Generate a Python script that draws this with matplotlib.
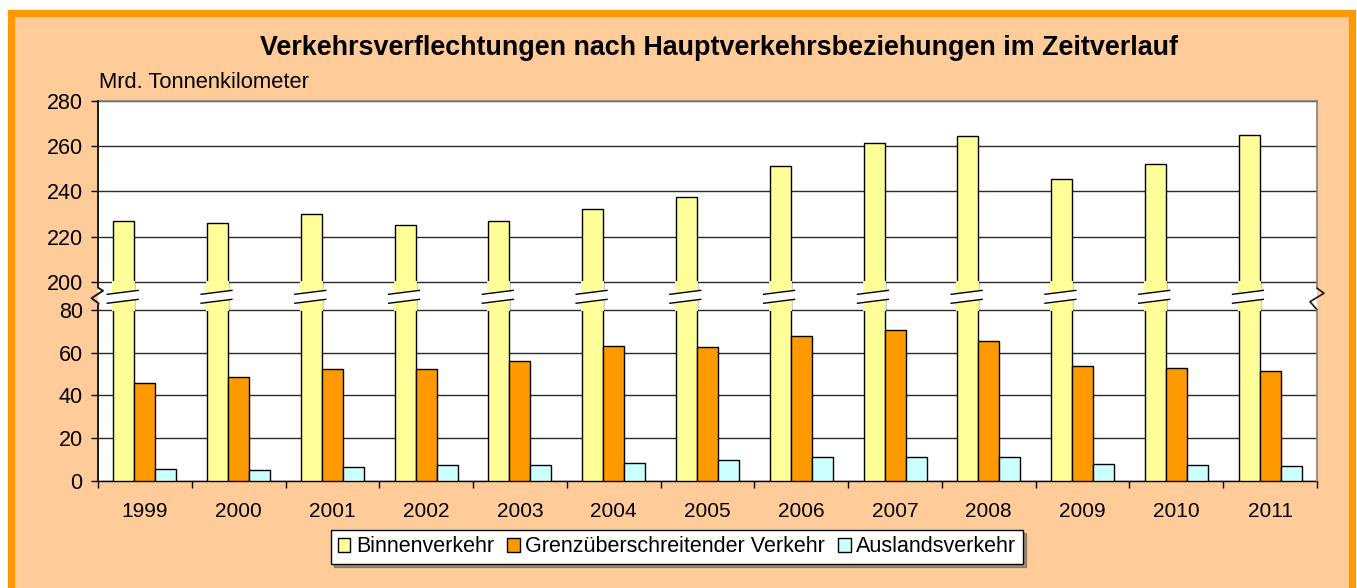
"""Verkehrsverflechtungen nach Hauptverkehrsbeziehungen - broken-axis bar chart."""

import matplotlib
matplotlib.use("Agg")
import matplotlib.pyplot as plt
import matplotlib.transforms as mtransforms
from matplotlib.patches import Rectangle, Polygon
from matplotlib.lines import Line2D
import numpy as np

# data (Mrd. Tonnenkilometer)
years = ["1999", "2000", "2001", "2002", "2003", "2004", "2005",
         "2006", "2007", "2008", "2009", "2010", "2011"]
binnen = [226.7, 226.2, 229.8, 225.3, 227.0, 232.1, 237.5,
          251.2, 261.5, 264.6, 245.6, 252.3, 265.0]
grenz = [45.8, 48.6, 52.2, 52.2, 56.1, 63.0, 62.6,
         67.9, 70.7, 65.5, 53.6, 52.7, 51.3]
ausland = [5.8, 5.2, 6.7, 7.5, 7.4, 8.5, 9.9,
           11.0, 11.3, 11.3, 8.0, 7.5, 7.1]
series_names = ["Binnenverkehr", "Grenzüberschreitender Verkehr", "Auslandsverkehr"]
y_ticks = [0, 20, 40, 60, 80, 200, 220, 240, 260, 280]

C_BINNEN = "#FFFF99"
C_GRENZ = "#FF9900"
C_AUSL = "#CCFFFF"
BG = "#FFCC99"

plt.rcParams["font.family"] = ["Liberation Sans", "DejaVu Sans"]

# piecewise y scale: 0-80 lower panel, 80-200 compressed gap, 200-280 upper panel
LOW_TOP, HIGH_BOT = 80.0, 200.0
K1, KG, K2 = 171.3 / 80.0, 28.0 / 120.0, 180.7 / 80.0
A = LOW_TOP * K1
B = A + (HIGH_BOT - LOW_TOP) * KG


def fwd(v):
    v = np.asarray(v, dtype=float)
    return np.where(v <= LOW_TOP, v * K1,
                    np.where(v <= HIGH_BOT, A + (v - LOW_TOP) * KG,
                             B + (v - HIGH_BOT) * K2))


def inv(t):
    t = np.asarray(t, dtype=float)
    return np.where(t <= A, t / K1,
                    np.where(t <= B, LOW_TOP + (t - A) / KG,
                             HIGH_BOT + (t - B) / K2))


W, H = 1357, 588
fig = plt.figure(figsize=(W / 100, H / 100), dpi=100, facecolor="white")

# orange frame with peach background
fig.patches.append(Rectangle((11 / W, -0.05), (1352 - 11) / W, 1.05 - 12.5 / H,
                             transform=fig.transFigure, facecolor=BG,
                             edgecolor="#FF9900", linewidth=5.2, zorder=-10))

ax_l, ax_r, ax_t, ax_b = 98, 1317, 101, 481
ax = fig.add_axes([ax_l / W, 1 - ax_b / H, (ax_r - ax_l) / W, (ax_b - ax_t) / H])
ax.set_zorder(1)
ax.set_facecolor("white")
ax.set_yscale("function", functions=(fwd, inv))
ax.set_ylim(0, 280)

x = np.arange(len(years))
w = 0.224
kw = dict(edgecolor="black", linewidth=1.0, zorder=3)
b1 = ax.bar(x - w, binnen, w, color=C_BINNEN, label=series_names[0], **kw)
b2 = ax.bar(x, grenz, w, color=C_GRENZ, label=series_names[1], **kw)
b3 = ax.bar(x + w, ausland, w, color=C_AUSL, label=series_names[2], **kw)

# break treatment on the tall bars
blend = mtransforms.blended_transform_factory(ax.transData, ax.transAxes)
lo = float(fwd(LOW_TOP) / fwd(280))
hi = float(fwd(HIGH_BOT) / fwd(280))
g = hi - lo
for p in b1:
    x0 = p.get_x()
    x1 = x0 + p.get_width()
    ax.add_patch(Rectangle((x0, LOW_TOP), x1 - x0, HIGH_BOT - LOW_TOP,
                           facecolor=C_BINNEN, edgecolor=C_BINNEN,
                           linewidth=1.4, zorder=3.5))
    xl, xr = x0 - 0.065, x1 + 0.04
    yl1, yr1 = lo + 0.23 * g, lo + 0.37 * g
    yl2, yr2 = lo + 0.55 * g, lo + 0.69 * g
    ax.add_patch(Polygon([(xl, yl1), (xr, yr1), (xr, yr2), (xl, yl2)],
                         closed=True, transform=blend, facecolor="white",
                         edgecolor="none", zorder=4))
    ax.add_line(Line2D([xl, xr], [yl1, yr1], transform=blend, color="black",
                       linewidth=1.0, zorder=4.5))
    ax.add_line(Line2D([xl, xr], [yl2, yr2], transform=blend, color="black",
                       linewidth=1.0, zorder=4.5))

# axes, ticks, grid
ax.set_xlim(-0.5, len(years) - 0.5)
ax.set_xticks(x)
ax.set_xticklabels(years, fontsize=15)
ax.set_xticks(np.arange(len(years) + 1) - 0.5, minor=True)
ax.tick_params(axis="x", which="major", length=0, pad=15)
ax.tick_params(axis="x", which="minor", length=5, width=1, direction="out",
               color="black")
ax.set_yticks(y_ticks)
ax.set_yticklabels([str(v) for v in y_ticks], fontsize=15.5)
ax.yaxis.set_minor_locator(matplotlib.ticker.NullLocator())
ax.tick_params(axis="y", length=5, width=1, pad=6, color="black")
ax.yaxis.grid(True, color="#2b2b2b", linewidth=1.0, zorder=1)
ax.set_axisbelow(True)

ax.spines["left"].set_visible(False)
ax.spines["right"].set_visible(False)
ax.spines["top"].set_color("#808080")
ax.spines["top"].set_linewidth(1.2)
ax.spines["bottom"].set_color("black")
ax.spines["bottom"].set_linewidth(1.0)

# spines with zigzag break marks (pixel offsets turned into axes fractions)
aw, ah = ax_r - ax_l, ax_b - ax_t
lo_px, hi_px = lo * ah, hi * ah
left_pts = [(0, ah), (0, hi_px - 6), (5, hi_px - 9), (-6.5, hi_px - 16.5),
            (0.5, hi_px - 21.5), (0, lo_px + 4), (0, 0)]
right_upper = [(0, ah), (0, hi_px - 6.5)]
right_zig = [(0, hi_px - 6.5), (7, hi_px - 11.5), (-7, hi_px - 20), (0, lo_px)]
right_lower = [(0, lo_px), (0, 0)]
ax.add_line(Line2D([px / aw for px, _ in left_pts], [py / ah for _, py in left_pts],
                   transform=ax.transAxes, color="#1a1a1a", linewidth=1.4,
                   clip_on=False, zorder=6))
for pts, col in [(right_upper, "#808080"), (right_zig, "#1a1a1a"),
                 (right_lower, "#808080")]:
    ax.add_line(Line2D([1 + px / aw for px, _ in pts], [py / ah for _, py in pts],
                       transform=ax.transAxes, color=col, linewidth=1.2,
                       clip_on=False, zorder=6))

# texts
fig.text(719 / W, 1 - 55 / H,
         "Verkehrsverflechtungen nach Hauptverkehrsbeziehungen im Zeitverlauf",
         ha="center", va="baseline", fontsize=19.4, fontweight="bold")
fig.text(99 / W, 1 - 88 / H, "Mrd. Tonnenkilometer", ha="left", va="baseline",
         fontsize=15.8)

leg = fig.legend(handles=[b1, b2, b3], labels=series_names, loc="center",
                 bbox_to_anchor=(677 / W, 1 - 547 / H), ncol=3, fontsize=15.5,
                 frameon=True, fancybox=False, shadow=True, handlelength=0.6,
                 handleheight=0.6, handletextpad=0.25, columnspacing=0.6,
                 borderpad=0.3, borderaxespad=0)
leg.get_frame().set_edgecolor("black")
leg.get_frame().set_linewidth(1.0)

fig.savefig("out.png", dpi=100, facecolor=fig.get_facecolor())
